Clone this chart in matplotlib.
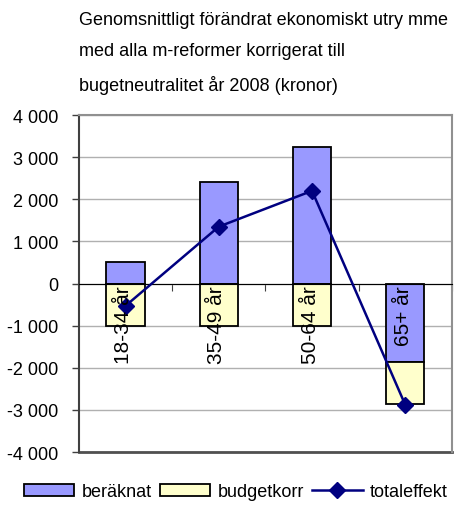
import numpy as np
import matplotlib
matplotlib.use("Agg")
import matplotlib.pyplot as plt
from matplotlib.ticker import FuncFormatter
from matplotlib.patches import Patch
from matplotlib.lines import Line2D

plt.rcParams["font.family"] = ["Liberation Sans", "DejaVu Sans"]

# data
kategorier = ["18-34 år", "35-49 år", "50-64 år", "65+ år"]
beraknat = [500, 2400, 3250, -1870]
budgetkorr = [-1000, -1000, -1000, -1000]
totaleffekt = [-530, 1350, 2200, -2880]

titel = ("Genomsnittligt förändrat ekonomiskt utry mme\n"
         "med alla m-reformer korrigerat till\n"
         "bugetneutralitet år 2008 (kronor)")

blue = "#9999FF"
yellow = "#FFFFCC"
navy = "#000080"

fig = plt.figure(figsize=(4.56, 5.06), dpi=100)
ax = fig.add_axes([0.173, 0.1047, 0.818, 0.666])

x = np.arange(len(kategorier))
w = 0.41

# budgetkorr staplas under beräknat (under noll om beräknat negativt)
bottom_korr = [min(b, 0) for b in beraknat]
ax.bar(x, beraknat, w, color=blue, edgecolor="black", linewidth=1.3, zorder=3)
ax.bar(x, budgetkorr, w, bottom=bottom_korr, color=yellow,
       edgecolor="black", linewidth=1.3, zorder=3)
ax.plot(x, totaleffekt, color=navy, lw=1.8, marker="D", ms=8, zorder=4)

for i, lab in enumerate(kategorier):
    ax.text(i - 0.02, -40, lab, rotation=90, ha="center", va="top",
            fontsize=15, zorder=5)

ax.set_xlim(-0.5, 3.5)
ax.set_ylim(-4000, 4000)
ax.set_yticks(np.arange(-4000, 4001, 1000))
ax.yaxis.set_major_formatter(
    FuncFormatter(lambda v, p: f"{int(v):,}".replace(",", " ")))
ax.yaxis.grid(True, color="#b0b0b0", lw=1, zorder=0)
ax.tick_params(axis="y", labelsize=13, length=5, color="#404040", width=1,
               pad=10)

# nollinjen med tickmarks mellan kategorierna
ax.spines["bottom"].set_position(("data", 0))
ax.spines["bottom"].set_color("black")
ax.spines["bottom"].set_zorder(3)
ax.set_xticks([0.5, 1.5, 2.5, 3.5])
ax.set_xticklabels([])
ax.tick_params(axis="x", direction="out", length=5, color="#404040")
ax.axhline(-4000, color="#505050", lw=2, clip_on=False)
ax.spines["left"].set_color("#404040")
ax.spines["left"].set_linewidth(1.5)
ax.spines["top"].set_color("#909090")
ax.spines["right"].set_color("#909090")
ax.spines["top"].set_linewidth(1.5)
ax.spines["right"].set_linewidth(1.5)

fig.text(0.173, 0.977, titel, ha="left", va="top", fontsize=13,
         linespacing=2.1)

handles = [
    Patch(facecolor=blue, edgecolor="black", linewidth=1.3),
    Patch(facecolor=yellow, edgecolor="black", linewidth=1.3),
    Line2D([0], [0], color=navy, lw=1.8, marker="D", ms=8),
]
fig.legend(handles, ["beräknat", "budgetkorr", "totaleffekt"],
           loc="lower center", bbox_to_anchor=(0.517, -0.016), ncol=3,
           frameon=False, fontsize=13, handlelength=2.8, handleheight=0.7,
           columnspacing=0.45, handletextpad=0.4, borderpad=0.2)

fig.savefig("out.png", dpi=100)
